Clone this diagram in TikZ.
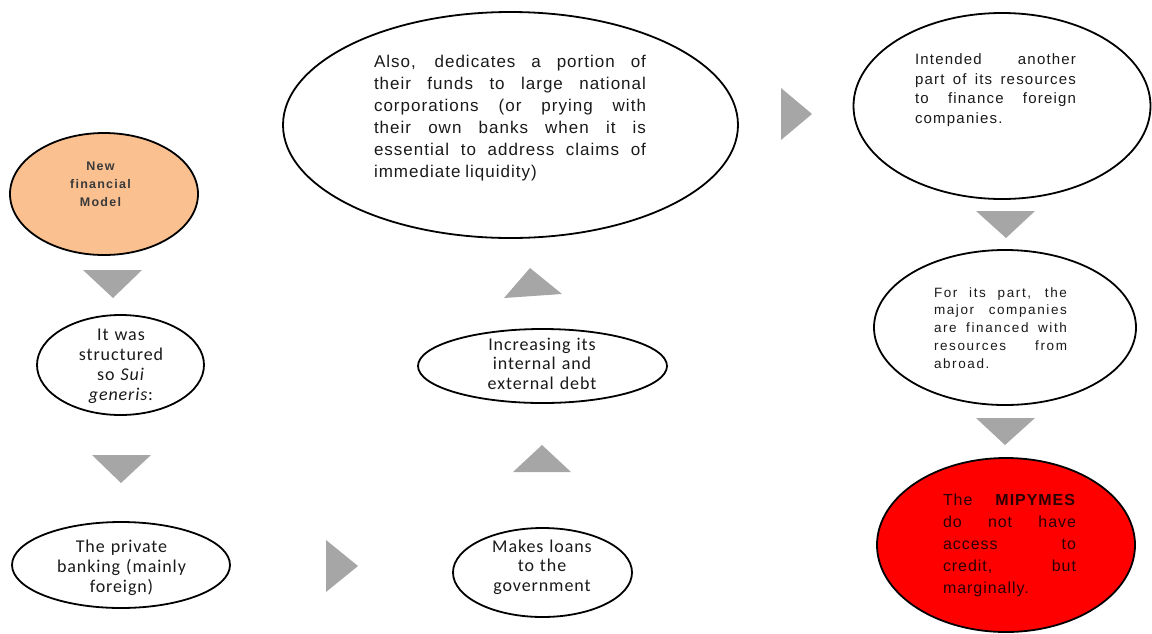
\documentclass[tikz,border=0pt]{standalone}
\usepackage{fontspec}
\setmainfont{Liberation Sans}
\newfontfamily\fA[LetterSpace=6]{Liberation Sans}
\newfontfamily\fI[LetterSpace=8]{Liberation Sans}
\newfontfamily\fB[LetterSpace=12]{Liberation Sans}
\newfontfamily\fP[LetterSpace=10]{Liberation Sans}
\newfontfamily\fC[LetterSpace=5]{Carlito}
\usetikzlibrary{shapes.geometric}
\definecolor{peach}{HTML}{FAC090}
\definecolor{arrowgray}{HTML}{A6A6A6}
\definecolor{txt}{HTML}{1A1A1A}
\definecolor{peachtxt}{HTML}{3A3A3A}
\definecolor{redtxt}{HTML}{2A0000}
\newcommand{\js}{\spaceskip=0.28em plus 30em\relax\xspaceskip=0.28em plus 30em\relax}
\newcommand{\jl}[1]{\hbox to \hsize{#1}}
\newcommand{\lastln}[1]{\hbox to \hsize{#1\hfil}}
\newcommand{\jpar}[2]{\parbox[t]{#1}{\js #2}}
\begin{document}
\begin{tikzpicture}[x=1pt,y=-1pt,
  ell/.style={ellipse, draw=black, line width=1.8pt, inner sep=0pt, fill=white},
  ar/.style={fill=arrowgray, draw=none},
  tx/.style={anchor=base, inner sep=0pt, text=txt},
  cal/.style={tx, align=center, text width=170pt}]
\useasboundingbox (0,0) rectangle (1152,633);

% ellipses
\node[ell, fill=peach, minimum width=188pt, minimum height=122pt] (e1) at (104,194) {};
\node[ell, minimum width=167pt, minimum height=100pt] (e2) at (120.5,365) {};
\node[ell, minimum width=218pt, minimum height=86pt] (e3) at (121,565) {};
\node[ell, minimum width=179pt, minimum height=89pt] (e4) at (542.5,572.5) {};
\node[ell, minimum width=249pt, minimum height=74pt] (e5) at (542.5,366) {};
\node[ell, minimum width=455pt, minimum height=226pt] (e6) at (510.5,125) {};
\node[ell, minimum width=297pt, minimum height=186pt] (e7) at (1002,106) {};
\node[ell, minimum width=262pt, minimum height=155pt] (e8) at (1005,327.5) {};
\node[ell, fill=red, minimum width=258pt, minimum height=174pt] (e9) at (1006,545) {};

% texts
\node[tx, align=center, text width=110pt, font=\fP\bfseries\fontsize{12.5}{18}\selectfont, text=peachtxt] (t1) at (100.5,170) {New\\financial\\Model};
\node[cal, font=\fC\fontsize{18}{20.3}\selectfont] (t2) at (121,340) {It was\\structured\\so \textit{Sui}\\\textit{generis}:};
\node[cal, font=\fC\fontsize{18}{20}\selectfont] (t3) at (121.5,552) {The private\\banking (mainly\\foreign)};
\node[cal, font=\fC\fontsize{18}{19.5}\selectfont] (t4) at (542,552) {Makes loans\\to the\\government};
\node[cal, font=\fC\fontsize{18}{19.5}\selectfont] (t5) at (542,350) {Increasing its\\internal and\\external debt};
\node[tx, font=\fA\fontsize{17}{22}\selectfont] (t6) at (510,67) {\jpar{272pt}{%
\jl{Also, dedicates a portion of}%
\jl{their funds to large national}%
\jl{corporations (or prying with}%
\jl{their own banks when it is}%
\jl{essential to address claims of}%
\lastln{immediate liquidity)}}};
\node[tx, font=\fI\fontsize{15}{19.7}\selectfont] (t7) at (995.5,64.5) {\jpar{161pt}{%
\jl{Intended another}%
\jl{part of its resources}%
\jl{to finance foreign}%
\lastln{companies.}}};
\node[tx, font=\fB\fontsize{13.5}{17.8}\selectfont] (t8) at (1000.5,297) {\jpar{133pt}{%
\jl{For its part, the}%
\jl{major companies}%
\jl{are financed with}%
\jl{resources from}%
\lastln{abroad.}}};
\node[tx, text=redtxt, font=\fA\fontsize{16}{22}\selectfont] (t9) at (1009.5,505) {\jpar{133pt}{%
\jl{The \textbf{MIPYMES}}%
\jl{do not have}%
\jl{access to}%
\jl{credit, but}%
\lastln{marginally.}}};

% block arrows
\fill[ar] (83,270) -- (142,270) -- (113,298) -- cycle;
\fill[ar] (92,455) -- (151,455) -- (121,483) -- cycle;
\fill[ar] (326,540) -- (326,592) -- (358,566) -- cycle;
\fill[ar] (513,472) -- (571,472) -- (542,445) -- cycle;
\fill[ar] (504,298) -- (562,294) -- (530,268) -- cycle;
\fill[ar] (781,88) -- (781,140) -- (812,114) -- cycle;
\fill[ar] (976,211) -- (1035,211) -- (1006,238) -- cycle;
\fill[ar] (976,418) -- (1035,418) -- (1005,445) -- cycle;
\end{tikzpicture}
\end{document}
